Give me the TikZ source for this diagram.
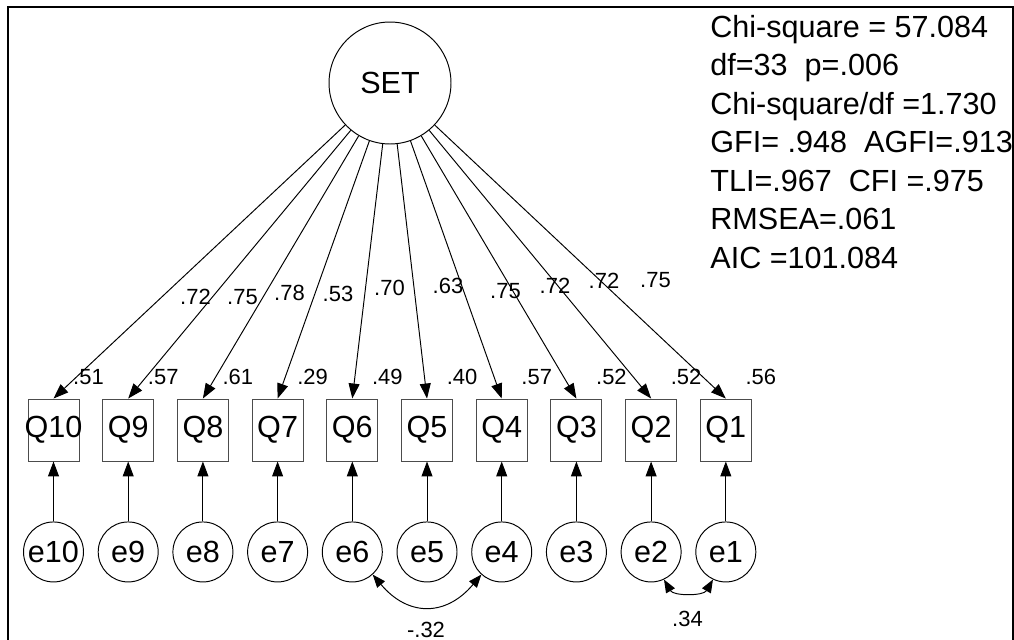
\documentclass[tikz,border=0pt]{standalone}
\usepackage{fontspec}
\setmainfont{Liberation Sans}
\usepackage{tikz}
\usetikzlibrary{%
  arrows.meta,
  positioning,
  calc}
\tikzset{
  %% Latent factor
  latent/.style={
    circle, draw=black, line width=0.55pt,
    minimum size=2.44cm, inner sep=0pt,
    font=\fontsize{17.4}{20}\selectfont},
  %% Observed items
  itembox/.style={
    rectangle, draw=black!70, line width=0.55pt,
    minimum width=1.02cm, minimum height=1.24cm,
    inner sep=0pt, font=\fontsize{17.4}{20}\selectfont},
  %% Error terms
  errnode/.style={
    circle, draw=black, line width=0.55pt,
    minimum size=1.2cm, inner sep=0pt,
    font=\fontsize{17.4}{20}\selectfont},
  %% Coefficients
  coef/.style={
    inner sep=0pt, anchor=base,
    font=\fontsize{12.5}{14}\selectfont},
  %% Fit indices
  fitbox/.style={
    align=left, inner sep=0pt, anchor=north west,
    font=\fontsize{17.4}{21.9}\selectfont},
  %% Arrows
  arrow/.style={-{Triangle[length=0.3cm, width=0.22cm]}, line width=0.55pt, black},
  covarrow/.style={{Triangle[length=0.26cm, width=0.2cm]}-{Triangle[length=0.26cm, width=0.2cm]},
    line width=0.55pt, black},
  frame/.style={line width=0.04cm, black},
}

\begin{document}
\begin{tikzpicture}[x=0.02cm, y=-0.02cm, node distance=0.455cm]
  \useasboundingbox (0,0) rectangle (1014,639);
  \draw[frame] (8,650) -- (8,7) -- (1012.5,7) -- (1012.5,650);

  \node[latent] (set) at (390,83) {SET};

  %% observed items
  \node[itembox] (q10) at (53.5,430) {\makebox[0pt]{Q10}};
  \node[itembox, right=of q10] (q9) {Q9};
  \node[itembox, right=of q9] (q8) {Q8};
  \node[itembox, right=of q8] (q7) {Q7};
  \node[itembox, right=of q7] (q6) {Q6};
  \node[itembox, right=of q6] (q5) {Q5};
  \node[itembox, right=of q5] (q4) {Q4};
  \node[itembox, right=of q4] (q3) {Q3};
  \node[itembox, right=of q3] (q2) {Q2};
  \node[itembox, right=of q2] (q1) {Q1};

  %% error terms
  \node[errnode, below=1.2cm of q10] (e10) {e10};
  \node[errnode, below=1.2cm of q9] (e9) {e9};
  \node[errnode, below=1.2cm of q8] (e8) {e8};
  \node[errnode, below=1.2cm of q7] (e7) {e7};
  \node[errnode, below=1.2cm of q6] (e6) {e6};
  \node[errnode, below=1.2cm of q5] (e5) {e5};
  \node[errnode, below=1.2cm of q4] (e4) {e4};
  \node[errnode, below=1.2cm of q3] (e3) {e3};
  \node[errnode, below=1.2cm of q2] (e2) {e2};
  \node[errnode, below=1.2cm of q1] (e1) {e1};

  %% loadings
  \draw[arrow] (set) -- (q10.north);
  \draw[arrow] (set) -- (q9.north);
  \draw[arrow] (set) -- (q8.north);
  \draw[arrow] (set) -- (q7.north);
  \draw[arrow] (set) -- (q6.north);
  \draw[arrow] (set) -- (q5.north);
  \draw[arrow] (set) -- (q4.north);
  \draw[arrow] (set) -- (q3.north);
  \draw[arrow] (set) -- (q2.north);
  \draw[arrow] (set) -- (q1.north);

  \draw[arrow] (e10) -- (q10);
  \draw[arrow] (e9) -- (q9);
  \draw[arrow] (e8) -- (q8);
  \draw[arrow] (e7) -- (q7);
  \draw[arrow] (e6) -- (q6);
  \draw[arrow] (e5) -- (q5);
  \draw[arrow] (e4) -- (q4);
  \draw[arrow] (e3) -- (q3);
  \draw[arrow] (e2) -- (q2);
  \draw[arrow] (e1) -- (q1);

  %% covariances
  \draw[covarrow] (e6.-48) to[out=-50, in=-130, looseness=1.3] (e4.-132);
  \draw[covarrow] (e2.-65) to[out=-60, in=-120] (e1.-115);
  \node[coef] (c64) at (426,637) {-.32};
  \node[coef] (c21) at (687.5,626) {.34};

  %% standardized weights
  \node[coef] (w1) at (195.5,304) {.72};
  \node[coef] (w2) at (242.5,304) {.75};
  \node[coef] (w3) at (289.5,300) {.78};
  \node[coef] (w4) at (338,301) {.53};
  \node[coef] (w5) at (389.5,295) {.70};
  \node[coef] (w6) at (448,293) {.63};
  \node[coef] (w7) at (505.5,298) {.75};
  \node[coef] (w8) at (555,293) {.72};
  \node[coef] (w9) at (604,288) {.72};
  \node[coef] (w10) at (655.5,287) {.75};

  %% squared multiple correlations
  \node[coef] (r10) at ($(q10.north)+(35,-14)$) {.51};
  \node[coef] (r9) at ($(q9.north)+(35,-14)$) {.57};
  \node[coef] (r8) at ($(q8.north)+(35,-14)$) {.61};
  \node[coef] (r7) at ($(q7.north)+(35,-14)$) {.29};
  \node[coef] (r6) at ($(q6.north)+(35,-14)$) {.49};
  \node[coef] (r5) at ($(q5.north)+(35,-14)$) {.40};
  \node[coef] (r4) at ($(q4.north)+(35,-14)$) {.57};
  \node[coef] (r3) at ($(q3.north)+(35,-14)$) {.52};
  \node[coef] (r2) at ($(q2.north)+(35,-14)$) {.52};
  \node[coef] (r1) at ($(q1.north)+(35,-14)$) {.56};

  %% fit statistics
  \node[fitbox] (fit) at (710,15)
        {Chi-square = 57.084\\ df=33\ \ p=.006\\ Chi-square/df =1.730\\
         GFI= .948\ \ AGFI=.913\\ TLI=.967\ \ CFI =.975\\ RMSEA=.061\\ AIC =101.084};
\end{tikzpicture}
\end{document}
